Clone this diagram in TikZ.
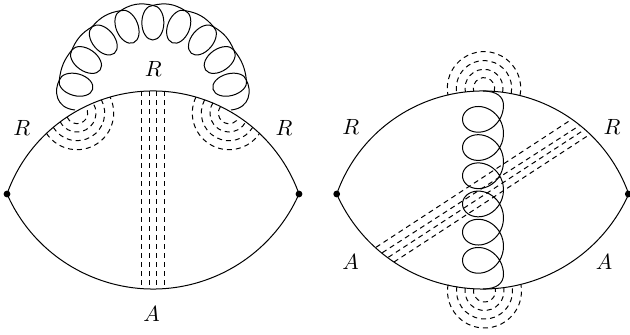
\documentclass[tikz,border=0pt]{standalone}
\usetikzlibrary{calc}
\tikzset{
  x=1pt,y=1pt,
  vertexdot/.style={circle,fill=black,inner sep=0pt,minimum size=6.8pt},
  lab/.style={inner sep=0pt,scale=2.2,transform shape},
  fermion/.style={line width=1pt,black},
  gluon/.style={line width=1pt,black},
  ghost/.style={line width=1pt,black,dash pattern=on 5pt off 4pt},
}
\begin{document}
\begin{tikzpicture}
\useasboundingbox (0,0) rectangle (630,335);
% left diagram
\node[vertexdot] (La) at (7,141) {};
\node[vertexdot] (Lb) at (299,141) {};
\draw[fermion] (La.center) arc[start angle=160.4,end angle=19.6,radius=155pt];
\draw[fermion] (La.center) arc[start angle=203.9,end angle=336.1,radius=159.7pt];
\foreach \x/\yt/\yb in {141.7/243.6/46.4,149/243.95/46.05,156.7/243.95/46.05,164.3/243.6/46.4}
  \draw[ghost] (\x,\yt) -- (\x,\yb);
\foreach \r/\a in {36.7/4,27.7/1.5,19/-2,10.7/-7}{
  \pgfmathsetmacro\sa{209.7+\a}\pgfmathsetmacro\ea{389.7-\a}
  \draw[ghost] ($(77,222)+(\sa:\r)$) arc[start angle=\sa,end angle=\ea,radius=\r pt];
  \pgfmathsetmacro\sb{-209.7+\a}\pgfmathsetmacro\eb{-29.7-\a}
  \draw[ghost] ($(229,222)+(\sb:\r)$) arc[start angle=\sb,end angle=\eb,radius=\r pt];
}
\coordinate (g1) at (75,225);
\coordinate (g2) at (231,225);
\foreach \i/\cx/\cy/\al in {0/76/250.3/165,1/86/275/145,2/103.3/295/130,3/127/308.3/112,4/152.85/312.3/90,5/178.7/308.3/68,6/202.4/295/50,7/219.7/275/35,8/229.7/250.3/15}{
  \draw[gluon,rotate around={\al:(\cx,\cy)}] (\cx,\cy) ellipse [x radius=17.3pt,y radius=11pt];
  \coordinate (tip\i) at ($(\cx,\cy)+(\al:17.3)$);
}
\draw[gluon,line join=round] (g1) .. controls (55,227) and (54,245) .. (tip0)
  to[bend left=16] (tip1) to[bend left=18] (tip2) to[bend left=20] (tip3) to[bend left=23] (tip4)
  to[bend left=23] (tip5) to[bend left=20] (tip6) to[bend left=18] (tip7) to[bend left=16] (tip8)
  .. controls (251.7,245) and (250.7,227) .. (g2);
\node[lab] (r1) at (21.7,207) {$R$};
\node[lab] (r2) at (284,207) {$R$};
\node[lab] (r3) at (153.3,265.7) {$R$};
\node[lab] (a1) at (151.7,21) {$A$};
% right diagram
\node[vertexdot] (Ra) at (336.7,141) {};
\node[vertexdot] (Rb) at (628.3,141) {};
\draw[fermion] (Ra.center) arc[start angle=160.4,end angle=19.6,radius=155pt];
\draw[fermion] (Ra.center) arc[start angle=203.9,end angle=336.1,radius=159.7pt];
\foreach \r/\a in {36.7/11,27.7/10.8,19/11.8,10.7/16.8}{
  \pgfmathsetmacro\sa{-\a}\pgfmathsetmacro\ea{180+\a}
  \draw[ghost] ($(484,246.7)+(\sa:\r)$) arc[start angle=\sa,end angle=\ea,radius=\r pt];
}
\foreach \r/\a in {37/10,28/9.2,19.5/9.4,11/12.5}{
  \pgfmathsetmacro\sa{180-\a}\pgfmathsetmacro\ea{360+\a}
  \draw[ghost] ($(484.5,44)+(\sa:\r)$) arc[start angle=\sa,end angle=\ea,radius=\r pt];
}
\draw[ghost] (376,87.7) -- (570.7,215);
\draw[ghost] (382.3,82.3) -- (579.3,209.3);
\draw[ghost] (388.3,77.7) -- (585,205.7);
\draw[ghost] (394,73) -- (590,200.7);
\coordinate (h1) at (483,244);
\coordinate (h2) at (483,46);
\draw[gluon,line join=round] (h1) .. controls (497,244) and (503.5,238) .. (503.5,229.7)
  -- plot[domain=90:2250,samples=260,variable=\p]
  ({483+20.5*sin(\p)},{335-(98.2+28.2*(\p/360)-19.4*cos(\p))})
  .. controls (503.5,52) and (497,46) .. (h2);
\node[lab] (r4) at (350.7,207.7) {$R$};
\node[lab] (r5) at (612,208) {$R$};
\node[lab] (a2) at (350.7,73.3) {$A$};
\node[lab] (a3) at (604,73.3) {$A$};
\end{tikzpicture}
\end{document}
